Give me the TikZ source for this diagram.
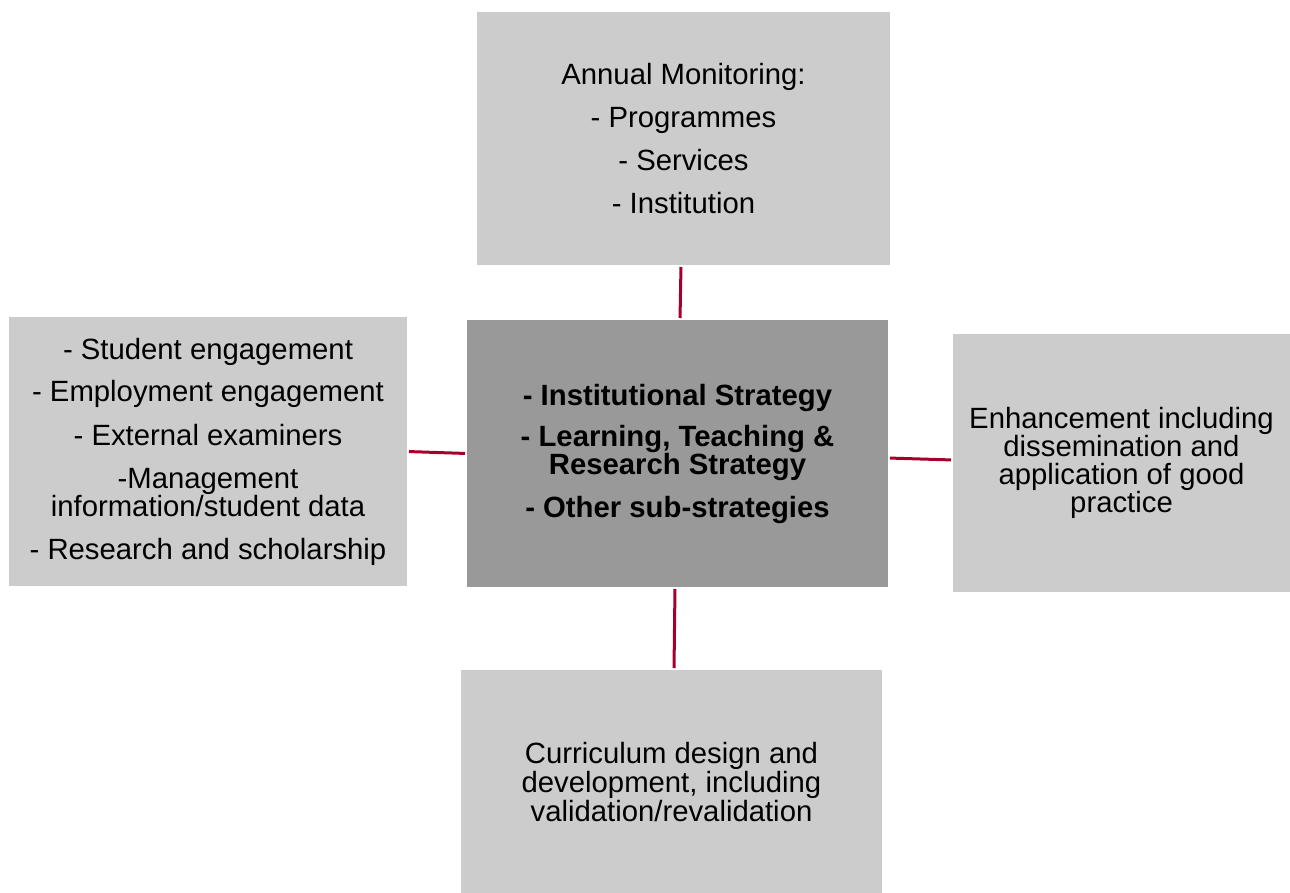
\documentclass[tikz,border=0pt]{standalone}
\usepackage{fontspec}
\setmainfont{Liberation Sans}
\definecolor{boxlight}{RGB}{204,204,204}
\definecolor{boxdark}{RGB}{153,153,153}
\definecolor{linkred}{RGB}{165,0,45}
\begin{document}
\begin{tikzpicture}[x=1pt,y=-1pt,
  box/.style={fill=boxlight, draw=none, inner sep=0pt, outer sep=0pt, align=center,
    font=\fontsize{29.3pt}{28pt}\selectfont},
  hub/.style={box, fill=boxdark, font=\fontsize{29.3pt}{28pt}\selectfont\bfseries},
  link/.style={draw=linkred, line width=3pt, shorten <=2pt, shorten >=2pt}]
\useasboundingbox (0,0) rectangle (1290,893);

\node[hub, minimum width=421pt, minimum height=267pt] (hub) at (677.5,453.5)
  {- Institutional Strategy\\[13pt]
   - Learning, Teaching \&\\
   Research Strategy\\[15pt]
   - Other sub-strategies};

\node[box, minimum width=413pt, minimum height=253pt] (top) at (683.5,138.5)
  {Annual Monitoring:\\[15pt]
   - Programmes\\[15pt]
   - Services\\[15pt]
   - Institution};

\node[box, minimum width=398pt, minimum height=269pt] (left) at (208,451.5)
  {- Student engagement\\[14pt]
   - Employment engagement\\[16pt]
   - External examiners\\[15pt]
   -Management\\
   information/student data\\[15pt]
   - Research and scholarship};

\node[box, minimum width=337pt, minimum height=258pt] (right) at (1121.5,463)
  {Enhancement including\\
   dissemination and\\
   application of good\\
   practice};

\node[box, minimum width=421pt, minimum height=225pt] (bottom) at (671.5,782.5)
  {Curriculum design and\\[1pt]
   development, including\\[1pt]
   validation/revalidation};

% connectors from the strategy hub to each activity
\draw[link] ([xshift=-2.5pt]top.south) -- ([xshift=2.5pt]hub.north);
\draw[link] (left.east) -- (hub.west);
\draw[link] ([yshift=-4.5pt]hub.east) -- ([yshift=3pt]right.west);
\draw[link] ([xshift=-2.5pt]hub.south) -- ([xshift=2.5pt]bottom.north);
\end{tikzpicture}
\end{document}
